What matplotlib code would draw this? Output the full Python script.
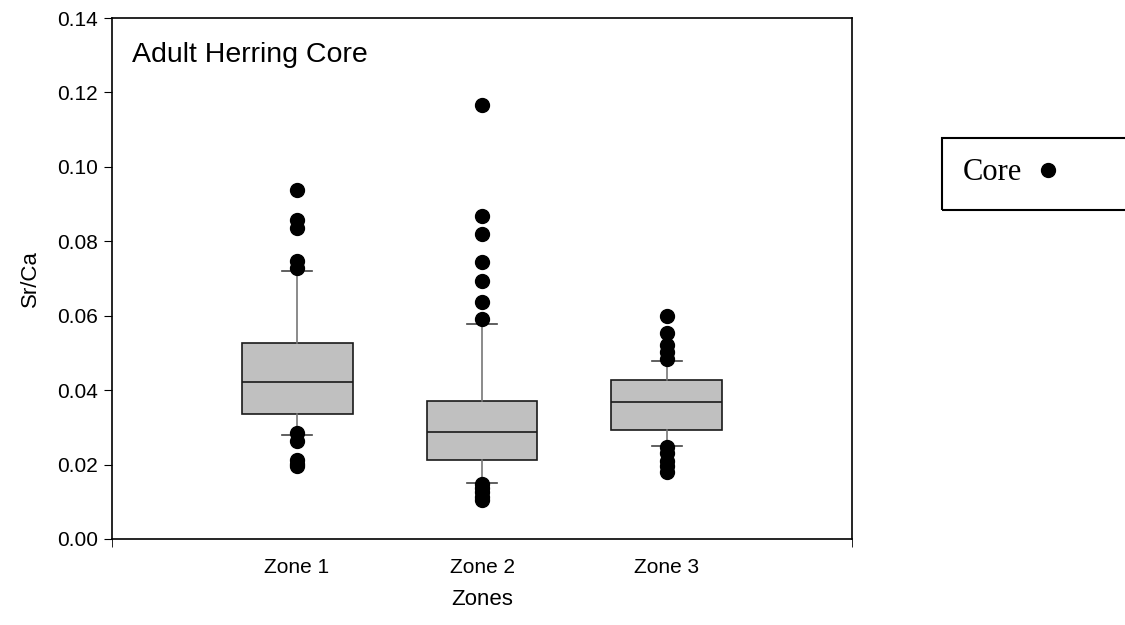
import matplotlib
matplotlib.use("Agg")
import matplotlib.pyplot as plt
from matplotlib.patches import Rectangle
from matplotlib.lines import Line2D

# box plot summaries
zones = ["Zone 1", "Zone 2", "Zone 3"]
q1 = [0.0336, 0.0213, 0.0293]
med = [0.0422, 0.0287, 0.0367]
q3 = [0.0527, 0.0371, 0.0426]
whis_lo = [0.0280, 0.0150, 0.0250]
whis_hi = [0.0720, 0.0578, 0.0478]
out1 = [0.0937, 0.0856, 0.0835, 0.0748, 0.0727, 0.0284, 0.0262, 0.0212, 0.0202, 0.0195]
out2 = [0.1166, 0.0867, 0.0820, 0.0744, 0.0692, 0.0638, 0.0591, 0.0148, 0.0136, 0.0125, 0.0114, 0.0105]
out3 = [0.0600, 0.0553, 0.0520, 0.0502, 0.0484, 0.0246, 0.0232, 0.0210, 0.0196, 0.0180]
outliers = [out1, out2, out3]

plt.rcParams['font.family'] = ['Liberation Sans', 'DejaVu Sans']

fig = plt.figure(figsize=(11.25, 6.25), dpi=100)
ax = fig.add_axes([0.0996, 0.1376, 0.6577, 0.8336])

stats = []
for i in range(3):
    stats.append(dict(label=zones[i], q1=q1[i], med=med[i], q3=q3[i],
                      whislo=whis_lo[i], whishi=whis_hi[i], fliers=outliers[i]))

ax.bxp(stats, positions=[1, 2, 3], widths=0.6, patch_artist=True,
       boxprops=dict(facecolor='#c0c0c0', edgecolor='#1a1a1a', linewidth=1.2),
       medianprops=dict(color='#1a1a1a', linewidth=1.2),
       whiskerprops=dict(color='#777777', linewidth=1.2),
       capprops=dict(color='#444444', linewidth=1.2),
       capwidths=0.16,
       flierprops=dict(marker='o', markersize=10, markerfacecolor='black',
                       markeredgecolor='black'))

ax.set_xlim(0, 4)
ax.set_ylim(0, 0.14)
ax.set_xticks([1, 2, 3])
ax.set_xticklabels(zones)
ax.set_xticks([0, 4], minor=True)
ax.tick_params(axis='x', which='major', length=0, pad=14, labelsize=15)
ax.tick_params(axis='x', which='minor', length=6, direction='out')
ax.set_yticks([0, 0.02, 0.04, 0.06, 0.08, 0.10, 0.12, 0.14])
ax.set_yticklabels(['0.00', '0.02', '0.04', '0.06', '0.08', '0.10', '0.12', '0.14'])
ax.tick_params(axis='y', length=6, direction='out', labelsize=15, pad=4)
for s in ax.spines.values():
    s.set_linewidth(1.2)

ax.set_xlabel('Zones', fontsize=16, labelpad=8)
ax.set_ylabel('Sr/Ca', fontsize=16, labelpad=12)
ax.text(0.027, 0.9155, 'Adult Herring Core', transform=ax.transAxes, fontsize=20.5,
        va='baseline', ha='left')

# legend box on the right, cut by the edge of the picture
fig.add_artist(Rectangle((942 / 1125, 1 - 210 / 625), 0.2, 72 / 625,
                         transform=fig.transFigure, fill=False,
                         edgecolor='black', linewidth=1.5, clip_on=False))
fig.text(963 / 1125, 1 - 172 / 625, 'Core', fontsize=22, family='Liberation Serif',
         va='center', ha='left')
fig.add_artist(Line2D([1048 / 1125], [1 - 170 / 625], transform=fig.transFigure,
                      marker='o', markersize=10, color='black', linestyle='none'))

fig.savefig('out.png', dpi=100)
